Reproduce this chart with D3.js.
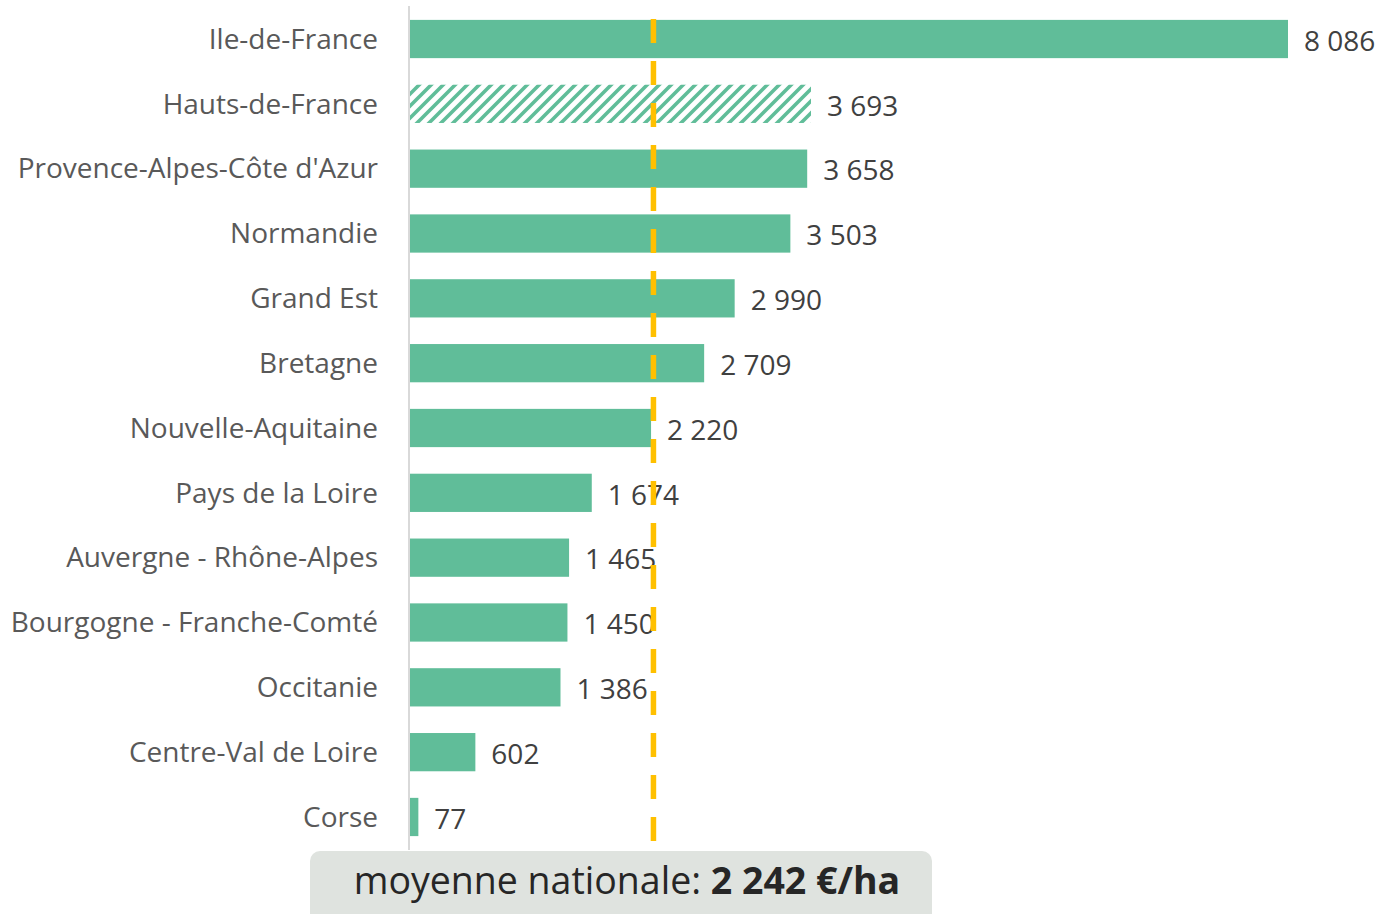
<!DOCTYPE html>
<html>
<head>
<meta charset="utf-8">
<script src="https://cdn.jsdelivr.net/npm/d3@7"></script>
<style>
  body { margin: 0; background: #fff; }
  svg { display: block; font-family: "Open Sans", Lato, sans-serif; }
</style>
</head>
<body>
<script>
// regions, values (€/ha), and which bar is hatched
const regions = ['Ile-de-France', 'Hauts-de-France', "Provence-Alpes-Côte d'Azur", 'Normandie',
  'Grand Est', 'Bretagne', 'Nouvelle-Aquitaine', 'Pays de la Loire', 'Auvergne - Rhône-Alpes',
  'Bourgogne - Franche-Comté', 'Occitanie', 'Centre-Val de Loire', 'Corse']
const values = [8086, 3693, 3658, 3503, 2990, 2709, 2220, 1674, 1465, 1450, 1386, 602, 77]
const hatched = ['Hauts-de-France']
const moyenne = 2242
const moyenneLabel = 'moyenne nationale: '
const moyenneBold = '2 242 €/ha'

const W = 1379, H = 914
const left = 410, right = 1288

const fmt = v => d3.format(',')(v).replace(/,/g, ' ')

const svg = d3.select('body').append('svg')
  .attr('width', W)
  .attr('height', H)

const p = 12
const pat = svg.append('defs').append('pattern')
  .attr('id', 'hatch')
  .attr('patternUnits', 'userSpaceOnUse')
  .attr('width', p)
  .attr('height', p)
pat.append('rect').attr('width', p).attr('height', p).attr('fill', '#fff')
pat.append('path')
  .attr('d', `M${-p/2},${p/2} L${p/2},${-p/2} M0,${p} L${p},0 M${p/2},${p*1.5} L${p*1.5},${p/2}`)
  .attr('stroke', '#60bd99')
  .attr('stroke-width', 3.6)

const x = d3.scaleLinear().domain([0, 8086]).range([left, right])
const y = d3.scaleBand().domain(regions).range([6.6, 849.4]).paddingInner(0.41).paddingOuter(0.205)

// axis line
svg.append('line')
  .attr('x1', 409).attr('x2', 409)
  .attr('y1', 6).attr('y2', 850)
  .attr('stroke', '#d9d9d9')
  .attr('stroke-width', 2)

svg.selectAll('rect.bar')
  .data(regions)
  .enter()
  .append('rect')
  .attr('class', 'bar')
  .attr('x', x(0))
  .attr('y', d => y(d))
  .attr('width', (d, i) => x(values[i]) - x(0))
  .attr('height', y.bandwidth())
  .attr('fill', d => hatched.includes(d) ? 'url(#hatch)' : '#60bd99')

svg.selectAll('text.cat')
  .data(regions)
  .enter()
  .append('text')
  .attr('class', 'cat')
  .attr('x', 378)
  .attr('y', d => y(d) + y.bandwidth() / 2)
  .attr('dy', '0.35em')
  .attr('text-anchor', 'end')
  .attr('font-size', 28)
  .attr('fill', '#595959')
  .text(d => d)

svg.selectAll('text.val')
  .data(regions)
  .enter()
  .append('text')
  .attr('class', 'val')
  .attr('x', (d, i) => x(values[i]) + 16)
  .attr('y', d => y(d) + y.bandwidth() / 2 + 2)
  .attr('dy', '0.35em')
  .attr('font-size', 28)
  .attr('fill', '#404040')
  .text((d, i) => fmt(values[i]))

// national average dashed line
svg.append('line')
  .attr('x1', x(moyenne)).attr('x2', x(moyenne))
  .attr('y1', 19).attr('y2', 841)
  .attr('stroke', '#ffc000')
  .attr('stroke-width', 5.5)
  .attr('stroke-dasharray', '24 18')

// bottom box
svg.append('rect')
  .attr('x', 310).attr('y', 851)
  .attr('width', 622).attr('height', 80)
  .attr('rx', 10)
  .attr('fill', '#dfe3df')

const t = svg.append('text')
  .attr('x', 627)
  .attr('y', 894)
  .attr('text-anchor', 'middle')
  .attr('font-size', 37.5)
  .attr('fill', '#262626')
t.append('tspan').text(moyenneLabel)
t.append('tspan').attr('font-weight', 'bold').text(moyenneBold)
</script>
</body>
</html>
